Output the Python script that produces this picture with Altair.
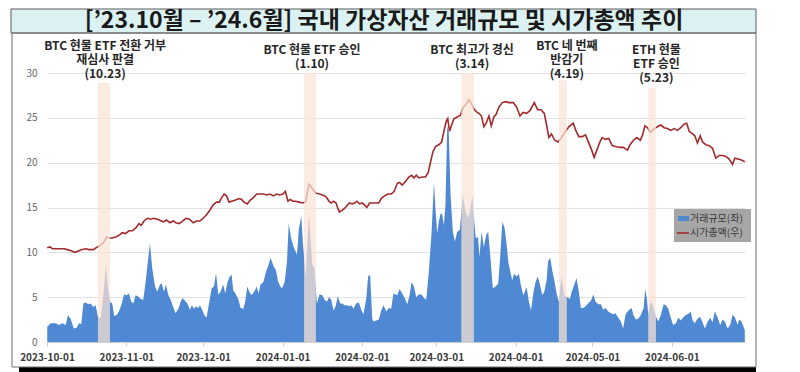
import altair as alt
import pandas as pd

START = pd.Timestamp("2023-10-01")

# 거래규모 (trading volume, left axis) - day offsets from 2023-10-01 and values
vol_day = [0.1, 1.4, 3.4, 4.7, 6.0, 7.3, 8.2, 9.2, 10.5, 11.6, 12.5, 13.4, 14.2, 15.1, 16.1, 17.1, 18.0, 19.0, 19.9,
           21.0, 22.0, 23.0, 23.8, 24.6, 25.5, 26.2, 27.2, 28.1, 29.0, 30.1, 31.1, 32.0, 32.9, 33.7, 34.6, 35.5, 36.6,
           37.6, 38.5, 40.2, 41.1, 42.2, 43.1, 44.1, 44.8, 45.7, 46.4, 47.4, 48.3, 49.3, 50.2, 51.3, 52.2, 52.9, 53.9,
           54.8, 55.8, 56.6, 57.4, 58.2, 59.1, 59.7, 60.6, 61.4, 62.3, 63.4, 64.3, 65.2, 66.0, 66.9, 67.8, 68.8, 69.6,
           70.5, 71.4, 72.1, 72.7, 73.8, 74.7, 75.6, 76.7, 77.4, 78.2, 79.0, 79.9, 80.9, 81.9, 82.6, 83.4, 84.5, 85.5,
           86.4, 87.3, 88.4, 89.4, 90.2, 91.1, 91.8, 92.8, 93.7, 94.4, 95.4, 96.3, 97.1, 97.6, 98.4, 99.3, 99.9, 101.0,
           102.3, 103.6, 104.5, 105.1, 105.4, 106.4, 107.5, 108.4, 109.3, 110.1, 111.0, 111.9, 112.7, 113.6, 114.5,
           115.3, 116.2, 117.1, 117.9, 118.8, 119.7, 120.7, 121.8, 122.7, 123.6, 124.7, 125.4, 126.2, 127.0, 127.5,
           128.6, 129.6, 130.5, 131.4, 132.5, 133.5, 134.4, 135.3, 136.8, 137.7, 138.7, 139.7, 140.7, 141.6, 142.4,
           143.3, 144.2, 145.2, 146.3, 147.2, 148.1, 149.1, 150.2, 151.1, 151.7, 152.4, 153.0, 153.7, 154.3, 155.0,
           155.6, 156.3, 156.9, 157.6, 158.5, 159.3, 160.2, 161.2, 162.4, 163.4, 164.5, 165.4, 166.1, 166.7, 167.4,
           168.3, 168.9, 169.7, 170.6, 171.5, 172.3, 173.2, 174.1, 175.2, 176.2, 177.1, 177.8, 178.7, 179.7, 180.1,
           180.8, 181.7, 182.4, 183.4, 184.3, 185.0, 186.0, 186.6, 187.3, 188.2, 189.0, 189.9, 190.8, 191.6, 192.5,
           193.4, 194.2, 195.1, 195.7, 196.5, 197.3, 198.1, 199.0, 199.9, 200.9, 202.0, 203.3, 204.2, 204.8, 205.9,
           206.8, 207.7, 208.5, 209.4, 210.3, 211.3, 212.4, 213.4, 214.2, 215.3, 216.3, 217.2, 218.1, 219.2, 220.2,
           221.2, 222.0, 223.1, 224.1, 225.0, 225.9, 226.4, 227.4, 228.3, 229.0, 230.0, 230.9, 231.9, 233.0, 233.6,
           234.3, 234.8, 235.8, 236.9, 237.9, 238.7, 239.7, 240.8, 241.7, 242.6, 243.6, 244.5, 245.6, 246.5, 247.5,
           248.6, 249.5, 250.8, 251.4, 252.1, 253.0, 254.0, 255.1, 256.0, 256.9, 257.9, 259.0, 259.9, 260.8, 261.9,
           262.9, 263.8, 264.7, 265.8, 266.8, 267.7, 268.6, 269.7, 270.3, 271.2, 272.0, 272.5]
vol_val = [1.7, 2.1, 2.1, 1.9, 2.1, 1.9, 3.0, 2.6, 1.5, 1.6, 2.1, 2.0, 4.3, 4.4, 4.2, 4.3, 3.9, 4.1, 2.8,
           2.6, 5.2, 8.5, 6.0, 4.5, 4.3, 2.9, 3.0, 3.4, 4.1, 5.3, 5.2, 5.4, 4.5, 4.3, 5.2, 5.1, 4.8,
           4.7, 6.7, 11.0, 8.2, 6.2, 5.6, 6.4, 6.5, 5.6, 6.4, 5.2, 4.7, 3.9, 3.2, 3.7, 4.5, 4.9, 4.6,
           4.3, 3.6, 4.1, 3.7, 4.0, 3.8, 4.1, 3.6, 3.0, 2.7, 4.5, 6.0, 6.2, 7.7, 5.3, 5.6, 6.4, 5.4,
           6.7, 7.3, 7.5, 5.8, 5.3, 4.8, 3.8, 3.7, 4.5, 6.2, 5.6, 5.2, 5.6, 6.2, 5.4, 6.4, 6.7, 7.8,
           8.5, 9.4, 8.5, 8.0, 6.8, 6.2, 6.0, 6.7, 8.9, 13.2, 11.5, 10.6, 10.1, 9.7, 12.7, 14.0, 11.2, 7.3,
           14.3, 8.6, 8.2, 5.5, 4.3, 5.3, 5.2, 4.7, 4.5, 5.0, 4.7, 3.5, 4.0, 5.1, 4.3,
           4.3, 4.1, 4.1, 4.0, 4.1, 3.7, 4.3, 4.4, 3.6, 3.1, 4.9, 7.3, 7.5, 2.6, 2.3,
           2.4, 2.5, 3.5, 4.1, 3.4, 3.8, 3.7, 5.4, 5.2, 5.9, 5.4, 4.9, 4.2, 5.2, 6.7,
           6.2, 5.0, 5.3, 5.3, 4.9, 4.7, 7.8, 12.3, 17.8, 14.9, 12.1, 13.4, 14.3, 14.3, 13.0,
           15.3, 24.1, 23.4, 16.4, 12.3, 11.2, 12.3, 12.5, 16.4, 14.6, 13.8, 15.0, 16.4, 14.0, 11.6,
           11.7, 9.5, 12.3, 10.6, 11.9, 12.3, 9.3, 6.0, 6.2, 6.5, 10.0, 13.4, 12.7, 10.4, 9.0,
           8.0, 6.9, 7.6, 7.3, 7.6, 6.4, 5.2, 5.6, 6.1, 4.5, 3.5, 5.4, 6.7, 7.3, 6.4,
           5.2, 5.6, 6.9, 9.0, 9.4, 8.0, 6.9, 5.4, 4.5, 7.3, 5.2, 5.0, 4.8, 5.5, 6.4,
           7.1, 5.6, 3.8, 3.8, 4.0, 4.3, 4.6, 5.3, 4.5, 4.2, 4.2, 3.6, 3.8, 3.4, 3.2,
           3.1, 3.2, 2.7, 2.3, 1.5, 3.0, 3.3, 3.6, 3.8, 3.0, 2.5, 2.6, 3.0, 3.8, 5.9,
           4.8, 3.0, 4.6, 3.8, 2.8, 2.3, 3.0, 4.2, 4.1, 3.7, 2.7, 1.9, 2.1, 2.7, 2.4,
           2.8, 3.0, 3.2, 3.4, 2.4, 2.1, 2.6, 2.8, 2.2, 1.5, 2.2, 2.7, 2.2, 3.4, 2.7,
           1.9, 2.5, 2.3, 1.5, 1.9, 3.0, 2.8, 1.9, 2.5, 2.3, 1.7, 1.3]

# 시가총액 (market cap, right axis) - day offsets and values
cap_day = [0.1, 1.2, 2.1, 4.0, 6.6, 7.9, 9.2, 10.8, 11.8, 13.4, 15.1, 16.4, 18.1, 19.7, 21.0, 22.3, 23.3, 24.2,
           25.5, 26.8, 28.1, 29.4, 30.7, 32.0, 33.3, 34.6, 35.9, 36.8, 37.9, 39.2, 40.5, 41.8, 43.1, 44.7, 45.4,
           46.7, 48.0, 49.3, 50.3, 51.7, 53.0, 54.3, 55.6, 57.1, 58.4, 59.7, 61.0, 62.3, 63.6, 64.9, 66.2, 67.3,
           68.2, 69.2, 70.1, 71.1, 72.1, 73.4, 75.0, 76.0, 76.9, 78.2, 79.3, 80.6, 81.9, 83.2, 84.5, 85.8, 87.1,
           88.4, 89.7, 90.8, 92.1, 93.1, 94.1, 95.0, 96.0, 97.1, 98.4, 99.7, 101.0, 101.5, 102.3, 103.2, 104.1,
           105.1, 106.4, 107.7, 109.0, 110.1, 111.0, 111.9, 112.9, 113.6, 114.2, 115.3, 116.2, 117.1, 118.1, 119.2,
           120.1, 121.0, 122.1, 123.1, 124.0, 124.9, 126.0, 127.3, 128.6, 129.6, 130.5, 131.8, 133.1, 134.4, 135.6,
           136.8, 137.7, 138.7, 140.0, 141.3, 142.4, 143.3, 144.2, 145.2, 146.5, 147.8, 148.9, 149.8, 150.7, 151.7,
           153.0, 154.1, 155.0, 155.9, 156.5, 157.2, 158.0, 158.9, 160.2, 161.5, 162.4, 163.7, 164.7, 165.8, 166.7,
           167.6, 168.7, 169.7, 170.6, 171.5, 172.6, 173.5, 174.5, 175.4, 176.5, 177.8, 179.1, 180.4, 182.1, 183.4,
           184.7, 185.9, 187.3, 188.6, 190.3, 191.6, 192.9, 194.2, 195.1, 196.0, 197.0, 198.3, 199.6, 200.9, 202.5,
           203.8, 205.5, 206.5, 207.7, 209.0, 210.3, 211.3, 212.7, 213.7, 214.6, 215.9, 216.8, 218.1, 219.4, 220.7,
           222.0, 223.7, 225.0, 226.7, 227.7, 229.0, 230.3, 231.7, 232.6, 233.5, 234.5, 235.6, 237.1, 238.4, 239.7,
           241.0, 242.3, 243.6, 244.9, 246.2, 247.5, 248.8, 249.8, 250.8, 252.1, 253.0, 254.0, 255.1, 256.0, 257.3,
           258.6, 259.9, 261.2, 262.5, 263.8, 265.1, 266.4, 267.7, 268.6, 269.9, 271.2, 272.5]
cap_val = [10.5, 10.6, 10.4, 10.4, 10.4, 10.3, 10.2, 10.0, 10.1, 10.3, 10.4, 10.3, 10.3, 10.6, 10.8, 11.2, 11.7, 11.6,
           11.6, 11.7, 11.9, 12.2, 12.1, 12.4, 12.4, 12.7, 13.2, 13.0, 13.5, 13.8, 13.7, 13.8, 13.7, 13.5, 13.4,
           13.6, 13.3, 13.5, 13.3, 13.2, 13.5, 13.8, 13.7, 13.3, 13.5, 13.5, 13.8, 14.2, 14.7, 15.3, 15.6, 15.6,
           16.1, 16.5, 16.3, 15.6, 15.7, 15.8, 16.0, 15.9, 15.6, 15.4, 15.8, 16.1, 16.5, 16.5, 16.5, 16.4, 16.5,
           16.3, 16.5, 16.4, 16.5, 16.8, 15.7, 15.9, 15.7, 15.7, 15.6, 15.5, 15.6, 16.4, 17.6, 17.3, 16.9,
           16.6, 16.5, 16.4, 16.2, 15.7, 15.5, 15.7, 15.5, 14.9, 14.5, 14.7, 14.9, 15.2, 15.5, 15.4,
           15.5, 15.7, 15.4, 15.5, 15.3, 15.0, 15.5, 15.5, 15.5, 15.5, 16.0, 16.3, 16.5, 16.5, 16.8,
           17.7, 17.8, 17.5, 17.9, 18.4, 18.6, 18.3, 18.6, 18.3, 18.4, 18.4, 18.9, 20.1, 21.2, 21.8,
           22.0, 22.3, 23.5, 24.6, 24.9, 23.5, 24.2, 24.9, 25.1, 25.3, 26.1, 26.5, 27.0, 26.6, 26.0,
           25.7, 25.5, 25.2, 24.0, 24.4, 25.2, 24.1, 25.1, 25.4, 26.2, 26.7, 26.8, 26.7, 26.7, 26.2,
           25.2, 25.6, 25.5, 25.8, 26.7, 25.9, 25.9, 25.5, 24.2, 22.8, 23.2, 22.5, 22.3, 22.8, 23.5,
           24.0, 24.4, 23.6, 22.9, 22.9, 23.1, 22.4, 21.4, 20.6, 21.3, 22.3, 22.8, 22.6, 22.7, 21.9,
           21.8, 21.7, 21.7, 21.4, 22.0, 22.5, 22.8, 22.5, 23.1, 24.1, 23.9, 23.4, 23.8, 24.0, 24.2,
           23.9, 23.8, 23.6, 23.8, 23.6, 23.9, 24.3, 24.4, 23.5, 23.2, 23.0, 22.2, 23.0, 22.3, 22.0,
           21.9, 21.6, 20.5, 20.8, 20.8, 20.7, 20.4, 19.8, 20.5, 20.4, 20.3, 20.1]

# event bands (day offsets) and annotations
band_start = [19.9, 100.4, 161.8, 199.9, 234.8]
band_end = [24.6, 105.0, 166.7, 203.0, 237.8]
band_top = [28.9, 30.0, 30.0, 29.2, 28.3]
ann_day = [22.7, 103.5, 166.0, 203.0, 238.0]
ann_text = ["BTC 현물 ETF 전환 거부\n재심사 판결\n(10.23)",
            "BTC 현물 ETF 승인\n(1.10)",
            "BTC 최고가 경신\n(3.14)",
            "BTC 네 번째\n반감기\n(4.19)",
            "ETH 현물\nETF 승인\n(5.23)"]

tick_dates = [(2023, 10), (2023, 11), (2023, 12), (2024, 1), (2024, 2), (2024, 3), (2024, 4), (2024, 5), (2024, 6)]
y_ticks = [0, 5, 10, 15, 20, 25, 30]
title_text = "[’23.10월 – ’24.6월] 국내 가상자산 거래규모 및 시가총액 추이"
legend_labels = ["거래규모(좌)", "시가총액(우)"]

FONT = "Noto Sans CJK KR"
BLUE = "#4f88d3"
RED = "#a3292b"


def ts(d):
    return (START + pd.Timedelta(days=d)).strftime("%Y-%m-%dT%H:%M:%S")


vol_df = pd.DataFrame({"t": [ts(d) for d in vol_day], "v": vol_val})
cap_df = pd.DataFrame({"t": [ts(d) for d in cap_day], "v": cap_val})
band_df = pd.DataFrame({"t": [ts(d) for d in band_start], "t1": [ts(d) for d in band_end], "v": band_top})

x_scale = alt.Scale(domain=[alt.DateTime(year=2023, month=10, date=1),
                            alt.DateTime(year=2024, month=6, date=29, hours=14)])
y_scale = alt.Scale(domain=[0, 30], nice=False)
x_axis = alt.Axis(values=[alt.DateTime(year=y, month=m, date=1) for y, m in tick_dates],
                  format="%Y-%m-%d", grid=False, domainColor="#d0d0d0", tickColor="#d0d0d0",
                  tickSize=4, labelFont=FONT, labelFontSize=10, labelFontWeight="bold",
                  labelColor="#3a3a3a", labelPadding=6, labelFlush=False, labelOverlap=False, title=None)
y_axis = alt.Axis(values=y_ticks, grid=True, gridColor="#e2e2e2", domain=False, ticks=False,
                  labelFont=FONT, labelFontSize=10, labelColor="#666666", labelPadding=10, title=None)

X = alt.X("t:T", scale=x_scale, axis=x_axis, title=None)
Y = alt.Y("v:Q", scale=y_scale, axis=y_axis, title=None)

area = alt.Chart(vol_df).mark_area(color=BLUE, opacity=1, interpolate="linear").encode(x=X, y=Y)

line = alt.Chart(cap_df).mark_line(color=RED, strokeWidth=1.6, interpolate="linear").encode(x=X, y=Y)

bands = alt.Chart(band_df).mark_rect(color="#fbe4d5", opacity=0.73).encode(
    x=X, x2="t1:T", y=Y, y2=alt.datum(0),
)

one = pd.DataFrame({"k": [0]})

# decorations: title box, frame, bottom bar, legend
title_box = alt.Chart(one).mark_rect(fill="#dcf2f2", stroke="#5a5a5a", strokeWidth=1).encode(
    x=alt.value(-36), x2=alt.value(709), y=alt.value(-64), y2=alt.value(-40))
frame = alt.Chart(one).mark_rect(fill="white", fillOpacity=0, stroke="#6e6e6e", strokeWidth=1).encode(
    x=alt.value(-35), x2=alt.value(709), y=alt.value(-40), y2=alt.value(294))
bottom_bar = alt.Chart(one).mark_rect(fill="black").encode(
    x=alt.value(-28), x2=alt.value(709), y=alt.value(294), y2=alt.value(300))
title = alt.Chart(one).mark_text(text=title_text, font=FONT, fontSize=23, fontWeight="bold",
                                 color="#1a1a1a", align="center", baseline="middle").encode(
    x=alt.value(337), y=alt.value(-52))

leg_box = alt.Chart(one).mark_rect(fill="#a6a6a6").encode(
    x=alt.value(627), x2=alt.value(704), y=alt.value(136), y2=alt.value(169))
leg_sw1 = alt.Chart(one).mark_rect(fill=BLUE).encode(
    x=alt.value(631), x2=alt.value(642), y=alt.value(143), y2=alt.value(148))
leg_sw2 = alt.Chart(one).mark_rule(color=RED, strokeWidth=1.6).encode(
    x=alt.value(630), x2=alt.value(642), y=alt.value(160))
leg_t1 = alt.Chart(one).mark_text(text=legend_labels[0], font=FONT, fontSize=10, color="#3a3a3a",
                                  align="left", baseline="middle").encode(x=alt.value(643), y=alt.value(146))
leg_t2 = alt.Chart(one).mark_text(text=legend_labels[1], font=FONT, fontSize=10, color="#3a3a3a",
                                  align="left", baseline="middle").encode(x=alt.value(643), y=alt.value(160))

ann_top = [-32.5, -28.5, -28.5, -32.5, -28.5]
ann_layers = []
for d, txt, top in zip(ann_day, ann_text, ann_top):
    adf = pd.DataFrame({"t": [ts(d)], "label": [txt]})
    ann_layers.append(
        alt.Chart(adf).mark_text(font=FONT, fontSize=12, fontWeight="bold", color="#262626",
                                 align="center", baseline="top", lineBreak="\n", lineHeight=14).encode(
            x=X, y=alt.value(top), text="label:N",
        )
    )

chart = alt.layer(
    title_box, bottom_bar, title, area, line, bands, *ann_layers,
    leg_box, leg_sw1, leg_sw2, leg_t1, leg_t2, frame,
).properties(
    width=698, height=269,
    autosize=alt.AutoSizeParams(type="none"),
    padding={"left": 39, "top": 65, "right": 47, "bottom": 30},
).configure_view(stroke=None)

chart.save("out.html", embed_options={"renderer": "svg", "actions": False})
